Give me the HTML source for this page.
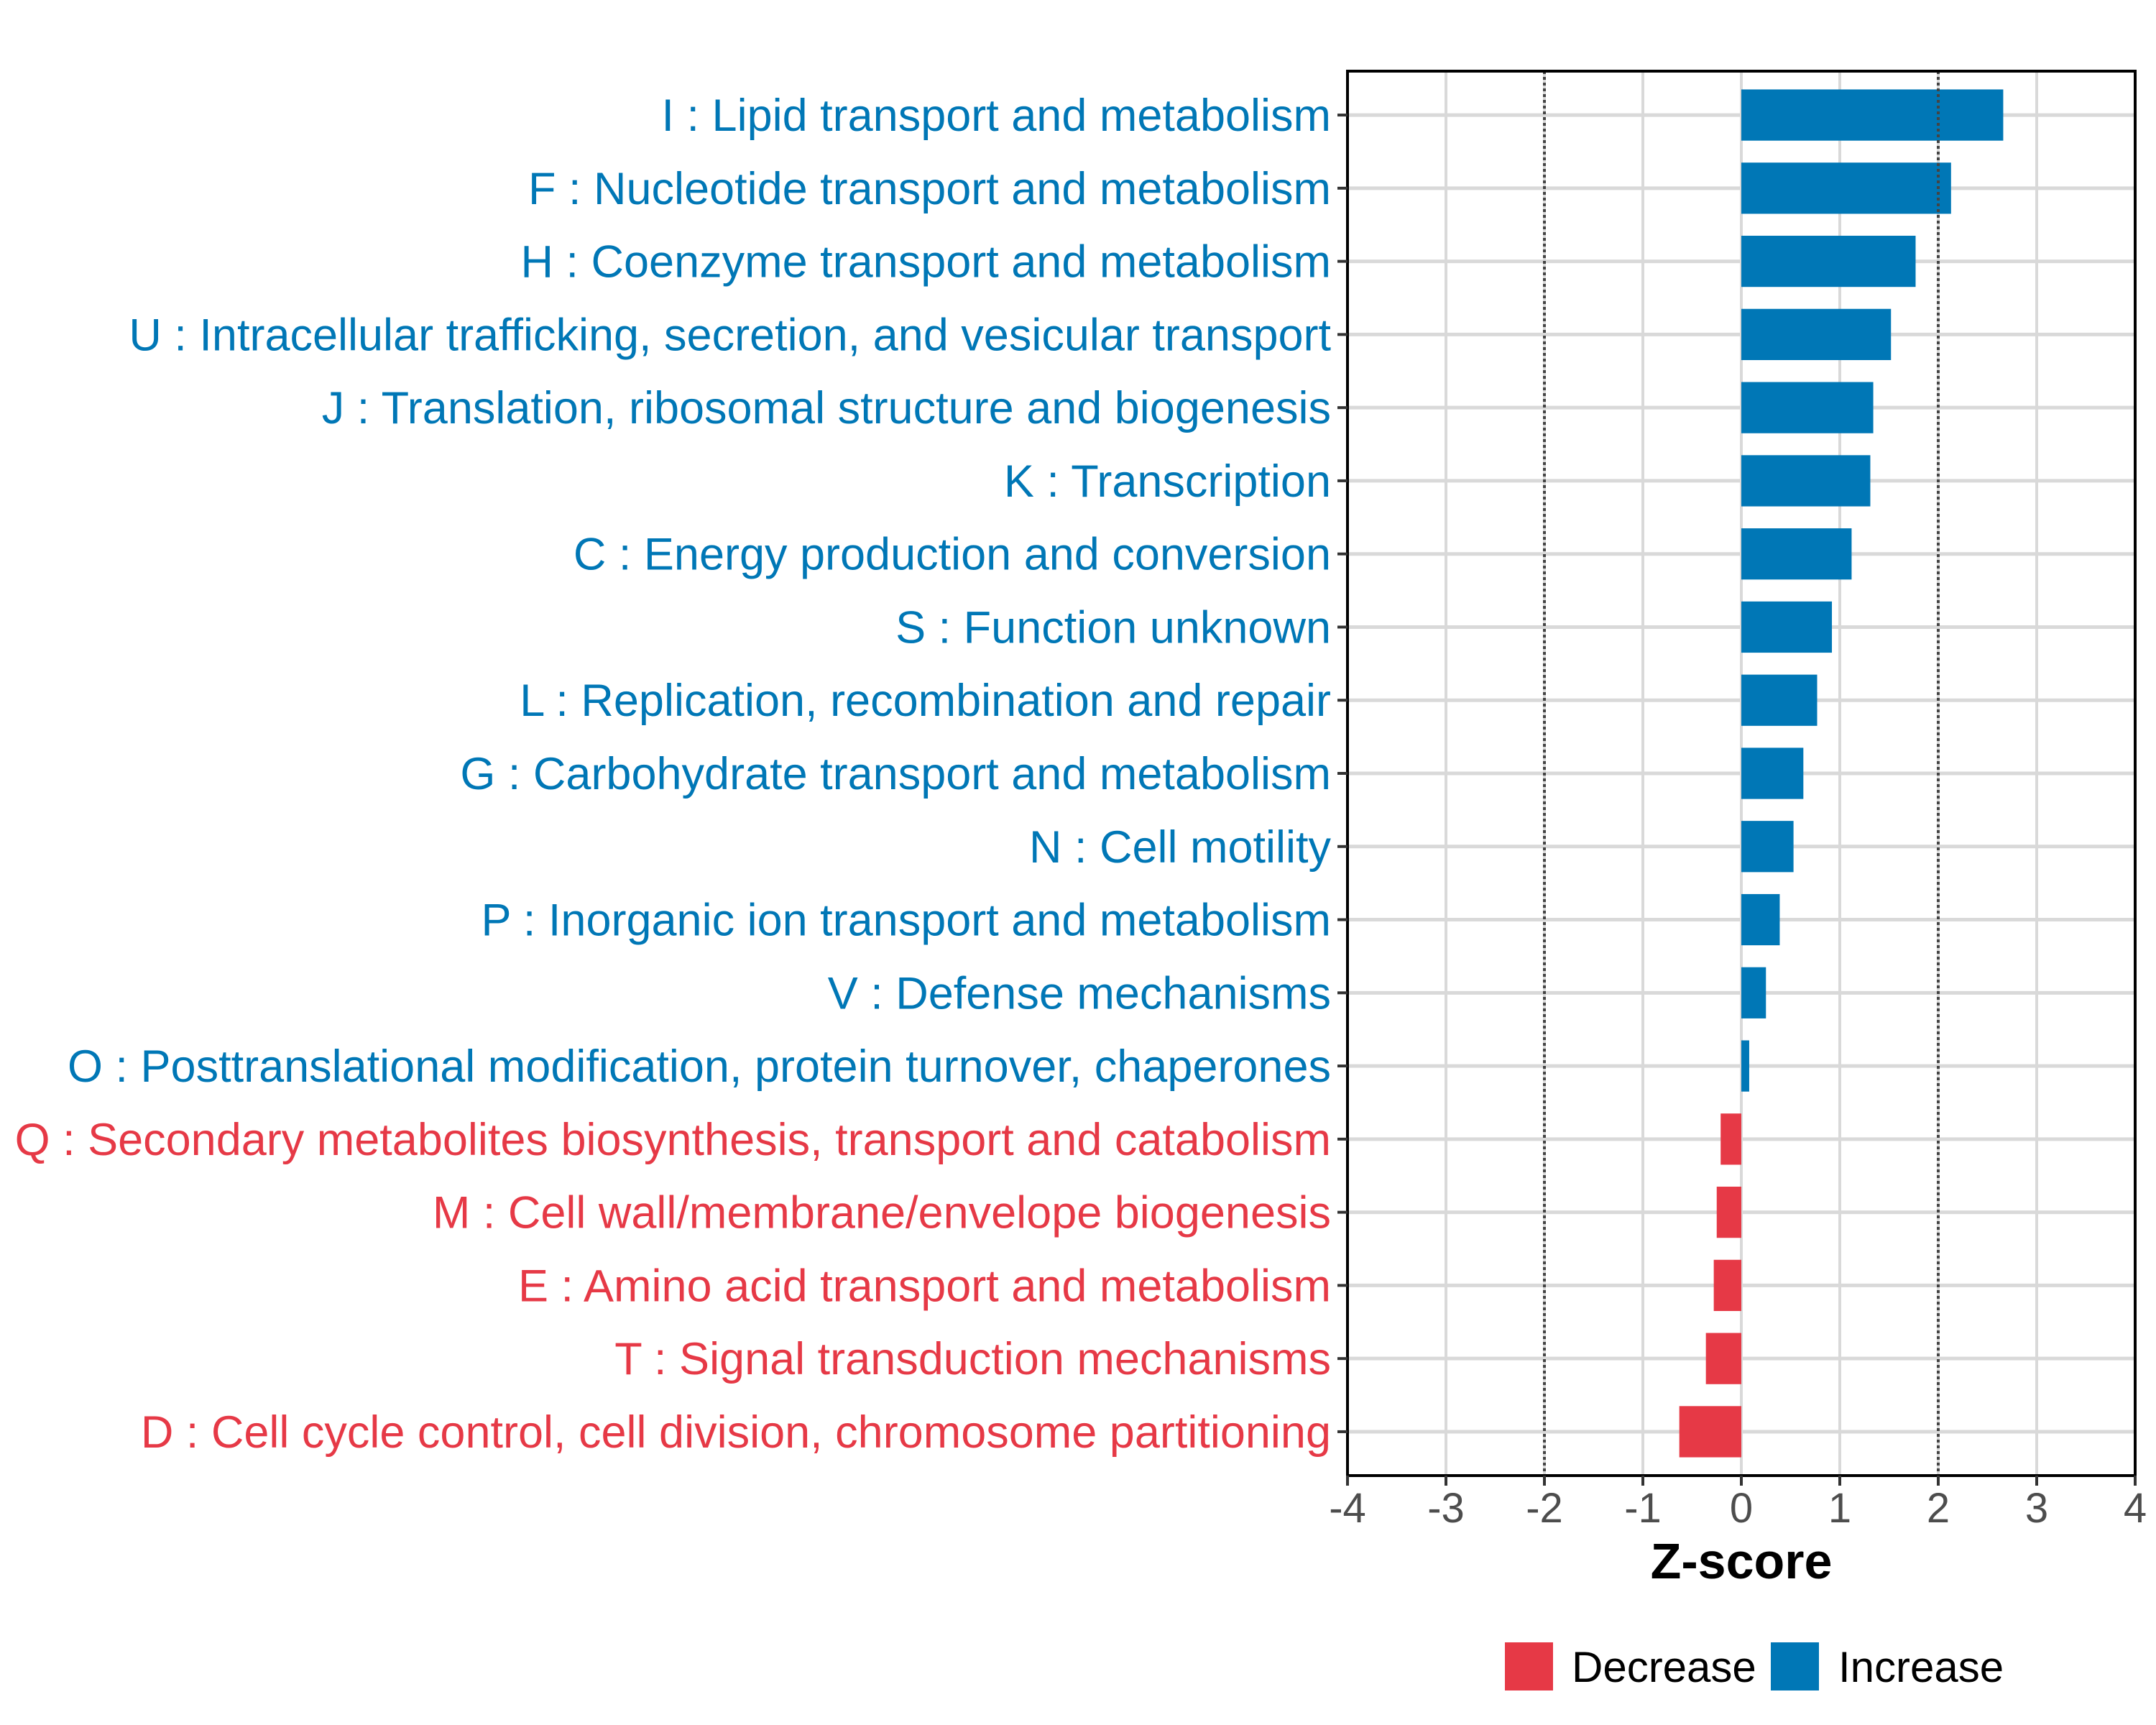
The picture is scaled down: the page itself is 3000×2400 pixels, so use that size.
<!DOCTYPE html>
<html><head><meta charset="utf-8"><style>
html,body{margin:0;padding:0;background:#fff;}
svg{display:block;font-family:"Liberation Sans",Arial,sans-serif;}
</style></head><body>
<svg id="chart" width="3000" height="2400" viewBox="0 0 3000 2400" xmlns="http://www.w3.org/2000/svg">
<rect width="3000" height="2400" fill="#fff"/>
<g id="grid"></g>
<g id="bars"></g>
<g id="refs"></g>
<rect x="1875" y="99" width="1096" height="1954" fill="none" stroke="#000" stroke-width="4"/>
<g id="yaxis"></g>
<g id="xaxis"></g>
<text x="2423" y="2196" font-size="70" font-weight="bold" text-anchor="middle" fill="#000">Z-score</text>
<g>
<rect x="2094" y="2285" width="67" height="67" fill="#E63946"/>
<text x="2187" y="2340" font-size="60" fill="#000">Decrease</text>
<rect x="2464" y="2285" width="67" height="67" fill="#0077B6"/>
<text x="2558" y="2340" font-size="60" fill="#000">Increase</text>
</g>
</svg>
<script>
const categories = ["I : Lipid transport and metabolism","F : Nucleotide transport and metabolism","H : Coenzyme transport and metabolism","U : Intracellular trafficking, secretion, and vesicular transport","J : Translation, ribosomal structure and biogenesis","K : Transcription","C : Energy production and conversion","S : Function unknown","L : Replication, recombination and repair","G : Carbohydrate transport and metabolism","N : Cell motility","P : Inorganic ion transport and metabolism","V : Defense mechanisms","O : Posttranslational modification, protein turnover, chaperones","Q : Secondary metabolites biosynthesis, transport and catabolism","M : Cell wall/membrane/envelope biogenesis","E : Amino acid transport and metabolism","T : Signal transduction mechanisms","D : Cell cycle control, cell division, chromosome partitioning"];
const zscores = [2.66,2.13,1.77,1.52,1.34,1.31,1.12,0.92,0.77,0.63,0.53,0.39,0.25,0.08,-0.21,-0.25,-0.28,-0.36,-0.63];
const xTicks = [-4,-3,-2,-1,0,1,2,3,4];
const refLines = [-2,2];
const NS="http://www.w3.org/2000/svg";
const X0=1875,X1=2971,XMIN=-4,XMAX=4,Y0=99,Y1=2053;
function sx(v){return X0+(v-XMIN)/(XMAX-XMIN)*(X1-X0);}
const step=(Y1-Y0)/(categories.length+0.2);
function sy(i){return Y0+step*0.6+i*step;}
function mk(tag,attrs,parent){const e=document.createElementNS(NS,tag);for(const k in attrs)e.setAttribute(k,attrs[k]);parent.appendChild(e);return e;}
const grid=document.getElementById('grid'),bars=document.getElementById('bars'),refs=document.getElementById('refs'),yax=document.getElementById('yaxis'),xax=document.getElementById('xaxis');
xTicks.forEach(t=>{
  const l=mk('line',{x1:sx(t),x2:sx(t),y1:Y0,y2:Y1,stroke:'#d9d9d9','stroke-width':4},grid);
  
  
  const tk=mk('line',{x1:sx(t),x2:sx(t),y1:Y1,y2:Y1+14,stroke:'#333','stroke-width':4},xax);
  
  
  const tx=mk('text',{x:sx(t),y:2118,'font-size':58,'text-anchor':'middle',fill:'#4d4d4d'},xax);
  tx.textContent=String(t);
  
  
});
categories.forEach((c,i)=>{
  const y=sy(i);
  const g=mk('line',{x1:X0,x2:X1,y1:y,y2:y,stroke:'#d9d9d9','stroke-width':5},grid);
  
  
  const v=zscores[i];
  const col=v<0?'#E63946':'#0077B6';
  const bh=step*0.7;
  const r=mk('rect',{x:Math.min(sx(0),sx(v)),y:y-bh/2,width:Math.abs(sx(v)-sx(0)),height:bh,fill:col},bars);
  
  
  const tk=mk('line',{x1:X0-14,x2:X0,y1:y,y2:y,stroke:'#333','stroke-width':4},yax);
  
  
  const t=mk('text',{x:1852,y:y+22,'font-size':63,'text-anchor':'end',fill:col},yax);
  t.textContent=c;
  
  
});
refLines.forEach(v=>{
  const l=mk('line',{x1:sx(v),x2:sx(v),y1:Y0,y2:Y1,stroke:'#444','stroke-width':4,'stroke-dasharray':'4 4'},refs);
  
  
});
</script>
</body></html>
